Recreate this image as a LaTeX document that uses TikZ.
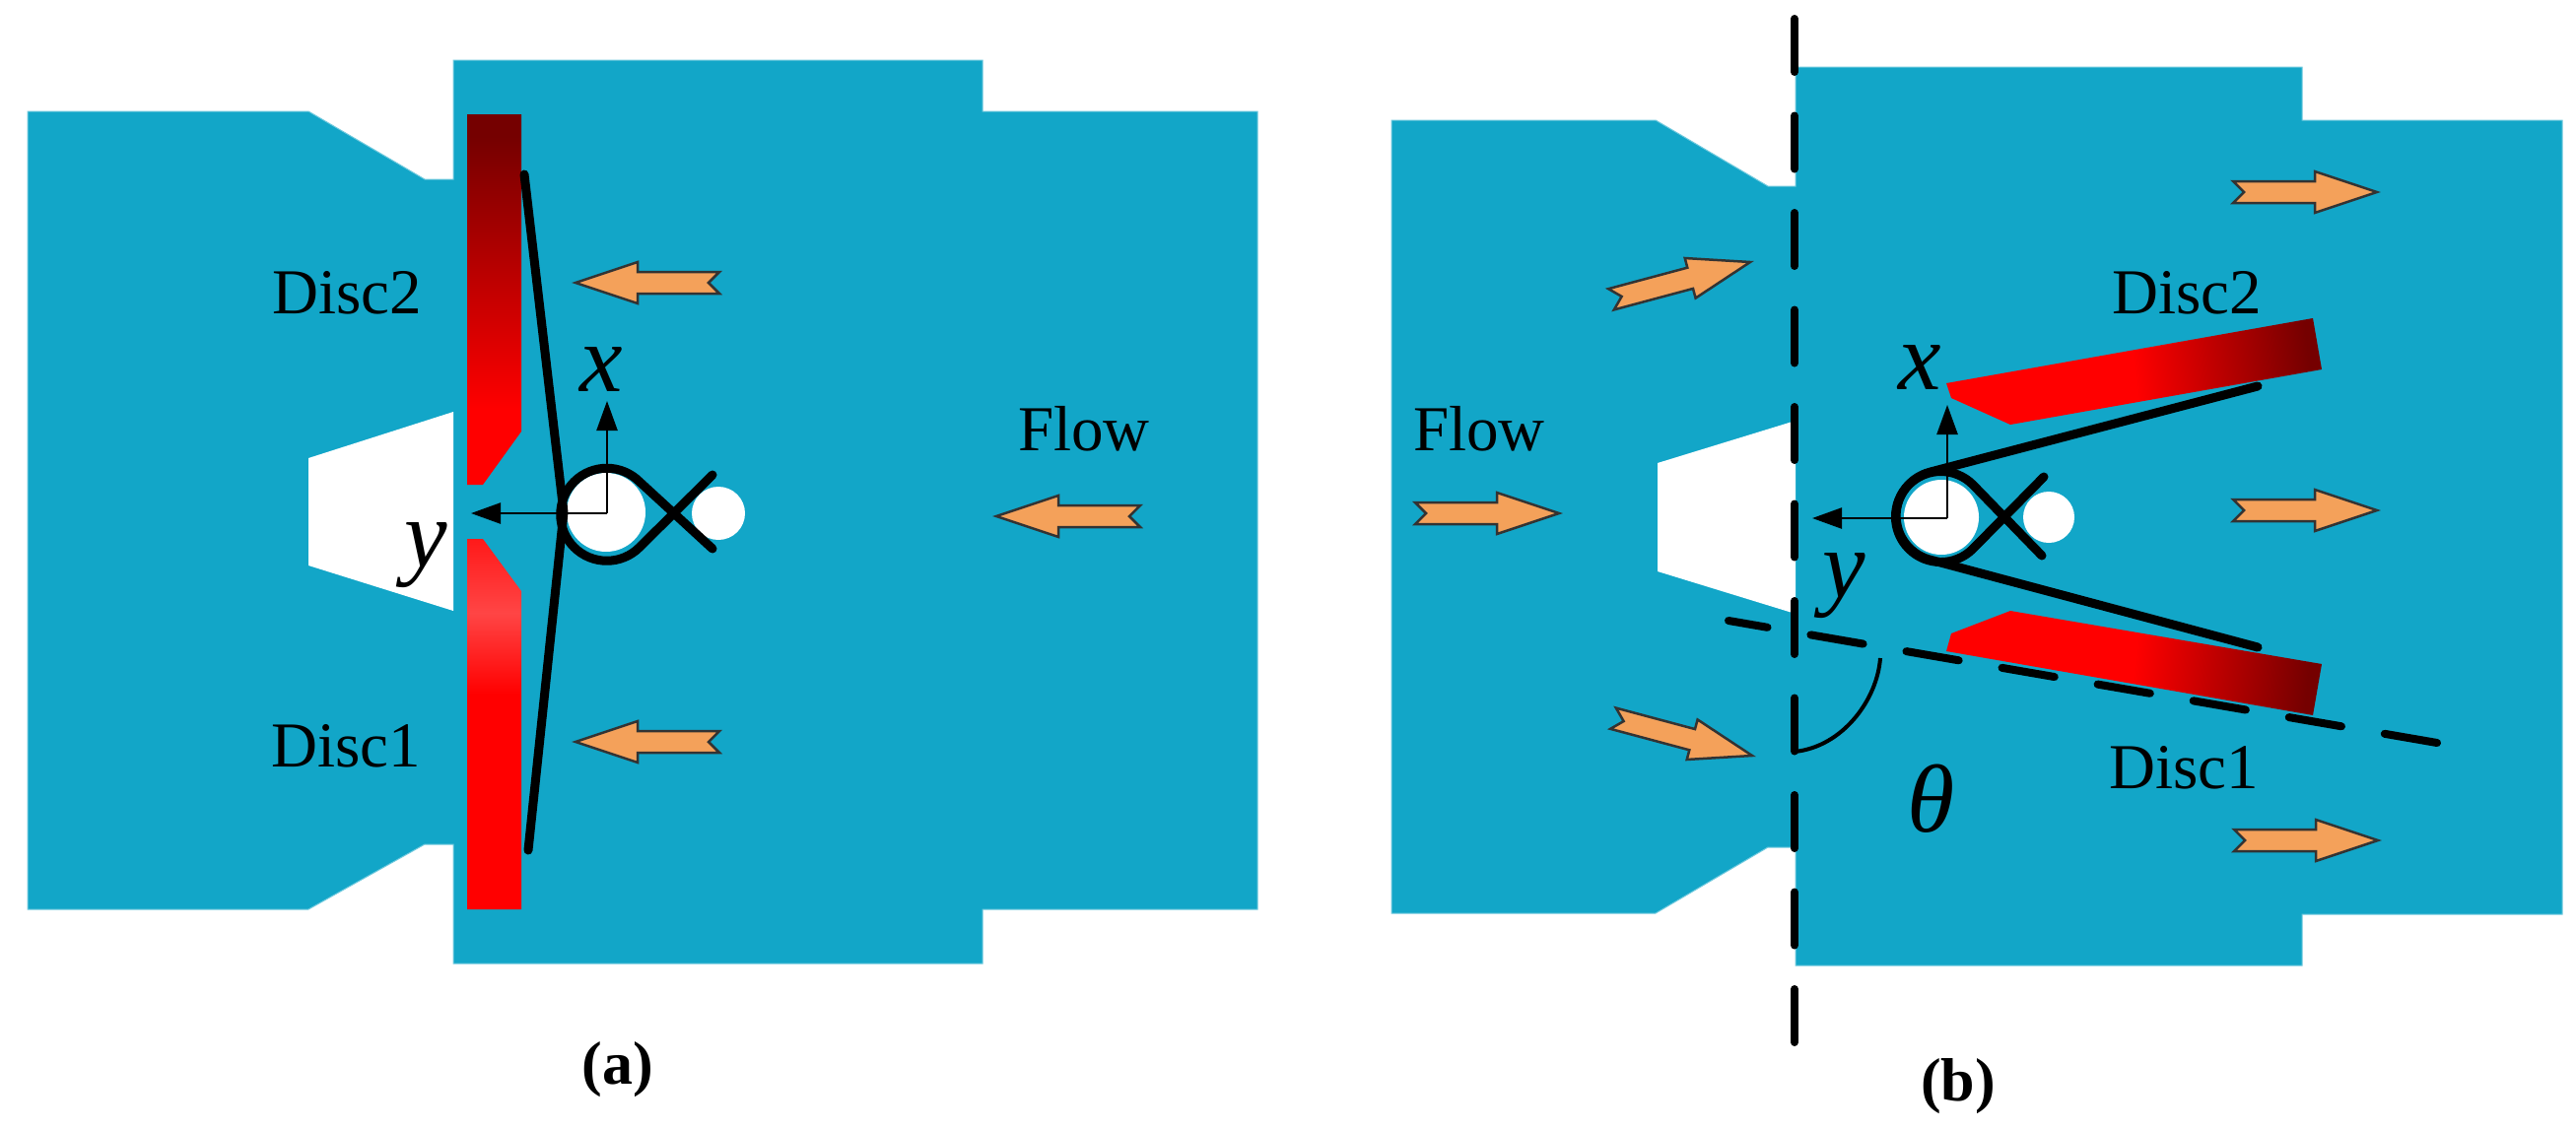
\documentclass[tikz,border=0pt]{standalone}
\usepackage{fontspec}
\setmainfont{Liberation Serif}
\usetikzlibrary{arrows.meta}
\definecolor{valveblue}{HTML}{12A6C8}
\definecolor{floworange}{HTML}{F4A15A}
\definecolor{discdark}{HTML}{750000}
\definecolor{discglow}{HTML}{FF4545}
\pgfdeclareverticalshading{discfade}{100bp}{color(0bp)=(red); color(35bp)=(red);
                                            color(72bp)=(discdark); color(100bp)=(discdark)}
\pgfdeclareverticalshading{discfadeb}{100bp}{color(0bp)=(red); color(50bp)=(red);
                                            color(75bp)=(discdark); color(100bp)=(discdark)}
\pgfdeclareverticalshading{discshine}{100bp}{color(0bp)=(red!85!black); color(26bp)=(red);
                                            color(54bp)=(red); color(65bp)=(discglow);
                                            color(75bp)=(red!90!white); color(100bp)=(red!90!white)}
\tikzset{body/.style={fill=valveblue,draw=valveblue!60!white,line width=1pt}}
\tikzset{gap/.style={fill=white}}
\tikzset{arrowline/.style={draw=black!80,fill=floworange,line width=2.5pt}}
\tikzset{spring/.style={draw=black,line width=9pt,line cap=round,line join=round}}
\tikzset{axisline/.style={draw=black,line width=2.5pt,-{Triangle[length=30pt,width=21pt]}}}
\tikzset{cutline/.style={draw=black,line width=8pt,line cap=round,dash pattern=on 54pt off 44.5pt}}
\tikzset{tag/.style={inner sep=0pt,anchor=base,font=\fontsize{65}{70}\selectfont}}
\tikzset{axislabel/.style={inner sep=0pt,font=\fontsize{98}{100}\selectfont\itshape}}
\tikzset{caption/.style={inner sep=0pt,font=\fontsize{62}{66}\selectfont\bfseries}}
\newcommand{\flowarrow}{\draw[arrowline] (0,0) -- (-63,-21) -- (-63,-11) -- (-146,-11)
                            -- (-135,0) -- (-146,11) -- (-63,11) -- (-63,21) -- cycle;}
\begin{document}
\begin{tikzpicture}[x=1pt,y=-1pt]
    \useasboundingbox (0,0) rectangle (2614,1146);
    % Draw valve body (a)
    \path[body] (28,113) -- (313,113) -- (431,182) -- (460,182) -- (460,61) -- (997,61)
        -- (997,113) -- (1276,113) -- (1276,923) -- (997,923) -- (997,978) -- (460,978)
        -- (460,857) -- (431,857) -- (313,923) -- (28,923) -- cycle;
    \fill[gap] (460,418) -- (313,465) -- (313,574) -- (460,620) -- cycle;
    % Draw valve body (b)
    \path[body] (1412,122) -- (1680,122) -- (1794,189) -- (1822,189) -- (1822,68) -- (2336,68)
        -- (2336,122) -- (2600,122) -- (2600,928) -- (2336,928) -- (2336,980) -- (1822,980)
        -- (1822,860) -- (1794,860) -- (1680,927) -- (1412,927) -- cycle;
    \fill[gap] (1682,470) -- (1822,427) -- (1822,623) -- (1682,580) -- cycle;
    % Discs of (a)
    \shade[shading=discfade] (474,116) -- (529,116) -- (529,438) -- (490,492) -- (474,492) -- cycle;
    \shade[shading=discshine] (474,547) -- (490,547) -- (529,600) -- (529,923) -- (474,923) -- cycle;
    % Discs of (b)
    \shade[shading=discfadeb,shading angle=-84]
        (1975,389) -- (2347,323) -- (2356,375) -- (2040,431) -- (1980,404) -- cycle;
    \shade[shading=discfadeb,shading angle=-96]
        (1975,661) -- (1980,643) -- (2040,620) -- (2356,674) -- (2347,726) -- cycle;
    % White holes behind the springs
    \foreach \cx/\cy/\r in {615/520/40,729/521/27,1970/525/38,2079/525/26}{%
          \fill[white] (\cx,\cy) circle (\r pt);
        }
    % Spring of (a)
    \draw[spring] (532,177) -- (572,520) -- (536,863);
    \draw[spring] (723,557) -- (649,489) arc[start angle=45,end angle=315,radius=47pt] -- (723,482);
    % Spring of (b)
    \draw[spring] (2291,392) -- (1959,479) arc[start angle=104,end angle=256,radius=46pt] -- (2291,657);
    \draw[spring] (2072,564) -- (2002,492) arc[start angle=45,end angle=315,radius=46pt] -- (2074,484);
    % Axes
    \coordinate (oa) at (616,521);
    \coordinate (xa) at (616,407);
    \coordinate (ya) at (478,521);
    \coordinate (ob) at (1976,526);
    \coordinate (xb) at (1976,411);
    \coordinate (yb) at (1839,526);
    \draw[axisline] (oa) -- (xa);
    \draw[axisline] (oa) -- (ya);
    \draw[axisline] (ob) -- (xb);
    \draw[axisline] (ob) -- (yb);
    % Flow arrows
    \foreach \ax/\ay/\ang in {584/287/180,584/753/180,1011/524/180,1582/521/0,1776/266/15,
                              1778/767/-15,2412/195/0,2412/518/0,2413/853/0}{%
          \begin{scope}[shift={(\ax,\ay)},rotate=\ang]
              \flowarrow
          \end{scope}
        }
    % Dashed lines and the angle between them
    \coordinate (vtop) at (1821,19);
    \coordinate (vbot) at (1821,1060);
    \coordinate (stop) at (2473,754);
    \coordinate (sbot) at (1754,630);
    \draw[cutline] (vtop) -- (vbot);
    \draw[cutline] (stop) -- (sbot);
    \coordinate (arca) at (1821,763);
    \coordinate (arcb) at (1908,668);
    \draw[black,line width=4pt] (arca) .. controls (1870,758) and (1905,710) .. (arcb);
    % Labels
    \node[tag] (disc2a) at (352,318) {Disc2};
    \node[tag] (disc1a) at (351,778) {Disc1};
    \node[tag] (flowa) at (1100,457) {Flow};
    \node[tag] (flowb) at (1501,457) {Flow};
    \node[tag] (disc2b) at (2219,318) {Disc2};
    \node[tag] (disc1b) at (2216,800) {Disc1};
    \node[axislabel] (xlaba) at (610,375) {x};
    \node[axislabel] (ylaba) at (432,564) {y};
    \node[axislabel] (xlabb) at (1948,373) {x};
    \node[axislabel] (ylabb) at (1871,595) {y};
    \node[axislabel] (theta) at (1960,811) {θ};
    \node[caption] (capa) at (627,1086) {(a)};
    \node[caption] (capb) at (1987,1103) {(b)};
\end{tikzpicture}
\end{document}
